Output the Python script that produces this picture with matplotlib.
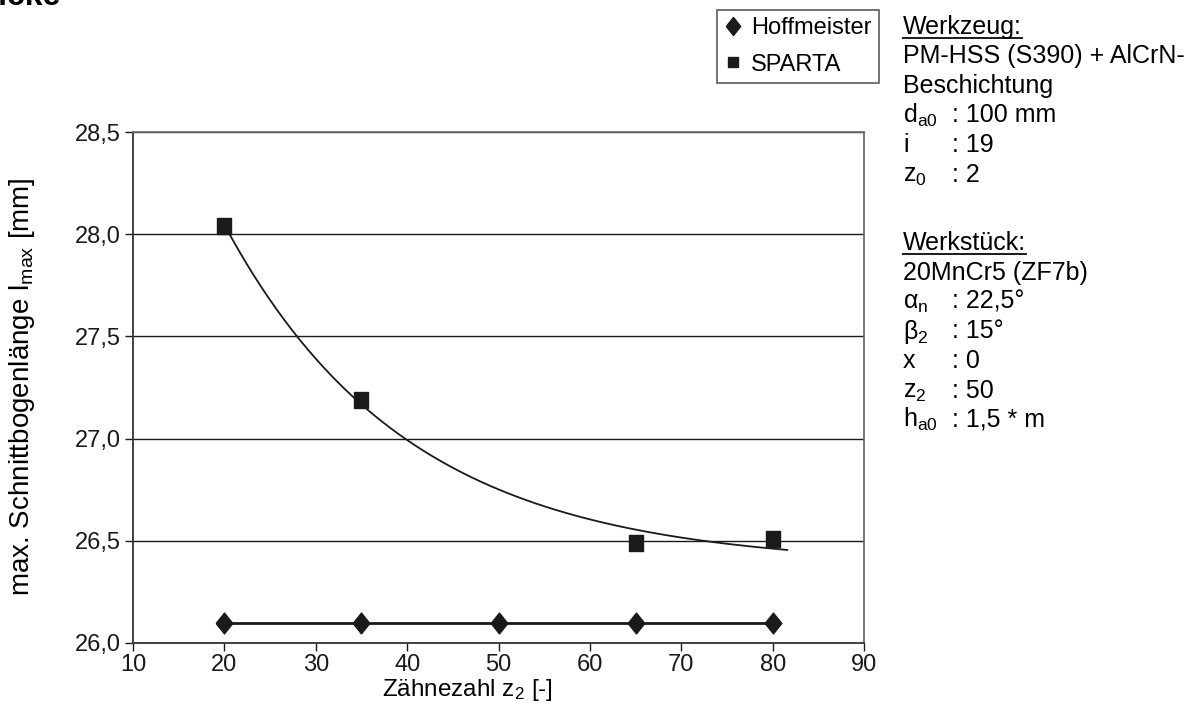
import numpy as np
import matplotlib
matplotlib.use('Agg')
import matplotlib.pyplot as plt
from matplotlib.lines import Line2D

plt.rcParams['font.family'] = ['Liberation Sans', 'DejaVu Sans']
plt.rcParams['mathtext.fontset'] = 'custom'
plt.rcParams['mathtext.rm'] = 'Liberation Sans'
plt.rcParams['mathtext.it'] = 'Liberation Sans'
plt.rcParams['mathtext.default'] = 'regular'

# data
z2 = [20, 35, 50, 65, 80]
hoffmeister = [26.1, 26.1, 26.1, 26.1, 26.1]
z2_sparta = [20, 35, 65, 80]
sparta = [28.04, 27.19, 26.49, 26.51]
trend_end = 81.6

xticks = [10, 20, 30, 40, 50, 60, 70, 80, 90]
yticks = [26.0, 26.5, 27.0, 27.5, 28.0, 28.5]
ytick_labels = ['26,0', '26,5', '27,0', '27,5', '28,0', '28,5']

W, H = 1191, 727
fig = plt.figure(figsize=(W / 100, H / 100), dpi=100)
ax = fig.add_axes([133 / W, 1 - 643 / H, 731 / W, 511 / H])

fs = 17
ink = '#1a1a1a'

# trend line: least squares fit y = c + A*exp(-x/tau)
xs = np.array(z2_sparta, dtype=float)
ys = np.array(sparta)
best = None
for tau in np.linspace(5, 150, 3000):
    M = np.column_stack([np.ones_like(xs), np.exp(-xs / tau)])
    coef = np.linalg.lstsq(M, ys, rcond=None)[0]
    sse = np.sum((M @ coef - ys) ** 2)
    if best is None or sse < best[0]:
        best = (sse, tau, coef)
_, tau, coef = best
xf = np.linspace(z2_sparta[0], trend_end, 300)
yf = coef[0] + coef[1] * np.exp(-xf / tau)

# diamonds in the original are a bit taller than wide
diamond = [(-0.4, 0), (0, 0.5), (0.4, 0), (0, -0.5), (-0.4, 0)]
box = [(-0.43, -0.5), (0.43, -0.5), (0.43, 0.5), (-0.43, 0.5), (-0.43, -0.5)]

ax.plot(xf, yf, color=ink, lw=1.3, zorder=3)
ax.plot(z2_sparta, sparta, linestyle='none', marker=box, markersize=11,
        color=ink, zorder=4)
ax.plot(z2, hoffmeister, color=ink, lw=2, marker=diamond, markersize=15, zorder=4)

ax.set_xlim(10, 90)
ax.set_ylim(26.0, 28.5)
ax.set_xticks(xticks, labels=[str(t) for t in xticks])
ax.set_yticks(yticks, labels=ytick_labels)
ax.tick_params(direction='out', length=6, width=1, colors=ink, labelsize=fs)
ax.tick_params(axis='x', pad=2)
ax.tick_params(axis='y', pad=3)
ax.yaxis.grid(True, color=ink, lw=1)
ax.set_axisbelow(True)
for s in ax.spines.values():
    s.set_color('#6e6e6e')
    s.set_linewidth(1.3)
ax.spines['left'].set_color('#333333')
ax.spines['bottom'].set_color('#333333')

fig.text(467 / W, 1 - 690 / H, 'Zähnezahl z$_2$ [-]', fontsize=fs + 0.5,
         ha='center', va='center')
fig.text(22 / W, 1 - 387 / H, 'max. Schnittbogenlänge l$_{max}$ [mm]',
         fontsize=20, rotation=90, ha='center', va='center')

# legend
handles = [Line2D([], [], linestyle='none', marker=diamond, markersize=13, color=ink),
           Line2D([], [], linestyle='none', marker='s', markersize=7, color=ink)]
leg = fig.legend(handles, ['Hoffmeister', 'SPARTA'], loc='upper left',
                 bbox_to_anchor=(717 / W, 1 - 10 / H), fontsize=fs, frameon=True,
                 fancybox=False, edgecolor='#333333', handlelength=0.75,
                 handletextpad=0.4, labelspacing=0.62, borderpad=0.3,
                 borderaxespad=0)
leg.get_frame().set_linewidth(1.2)

# cut-off heading at the top left
fig.text(-24 / W, 1 - 5 / H, 'Dicke', fontsize=23, fontweight='bold',
         va='baseline', ha='left')

# parameter block (baselines in pixels)
x1, x2 = 903 / W, 952 / W
rows = [
    ('Werkzeug:', None, 34, True),
    ('PM-HSS (S390) + AlCrN-', None, 63.5, False),
    ('Beschichtung', None, 93, False),
    ('d$_{a0}$', ': 100 mm', 122.5, False),
    ('i', ': 19', 152, False),
    ('z$_0$', ': 2', 181.5, False),
    ('Werkstück:', None, 250, True),
    ('20MnCr5 (ZF7b)', None, 279.5, False),
    (r'$\alpha_n$', ': 22,5°', 309, False),
    (r'$\beta_2$', ': 15°', 338.5, False),
    ('x', ': 0', 368, False),
    ('z$_2$', ': 50', 397.5, False),
    ('h$_{a0}$', ': 1,5 * m', 427, False),
]
fs_block = 18
fig.canvas.draw()
renderer = fig.canvas.get_renderer()
for lab, val, yb_px, underline in rows:
    yb = 1 - yb_px / H
    t = fig.text(x1, yb, lab, fontsize=fs_block, va='baseline', ha='left')
    if val is not None:
        fig.text(x2, yb, val, fontsize=fs_block, va='baseline', ha='left')
    if underline:
        bb = t.get_window_extent(renderer)
        fig.add_artist(Line2D([bb.x0 / W, bb.x1 / W], [yb - 4 / H, yb - 4 / H],
                              transform=fig.transFigure, color=ink, lw=1.4))

fig.savefig('out.png', dpi=100)
